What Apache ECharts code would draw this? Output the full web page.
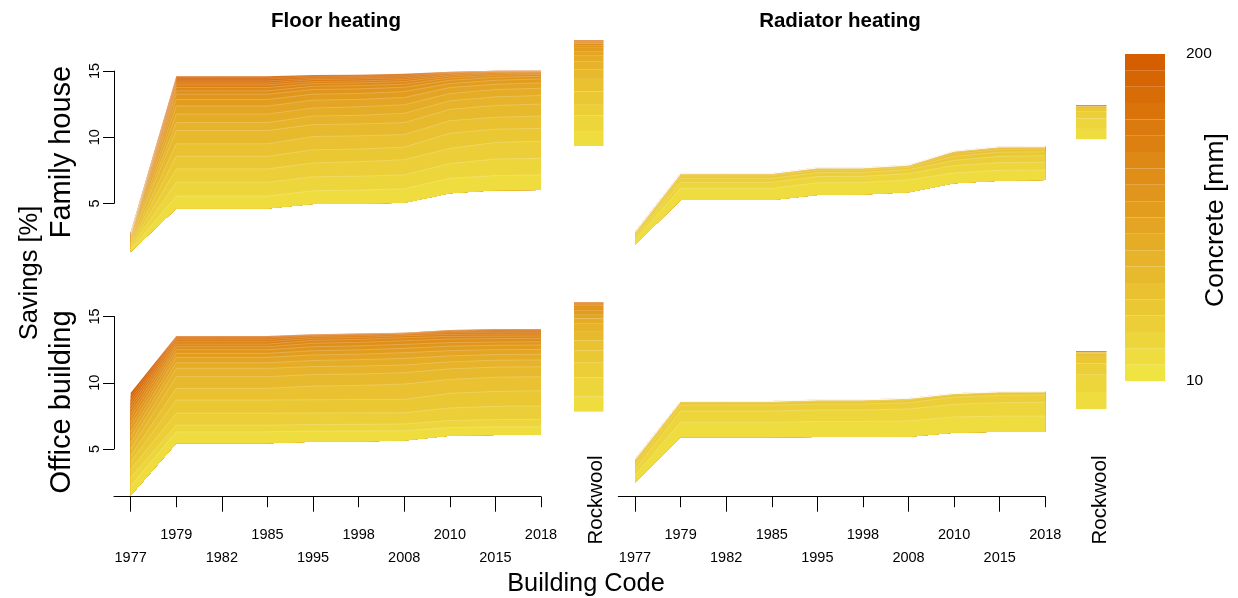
<!DOCTYPE html>
<html>
<head>
<meta charset="utf-8">
<title>Savings by building code</title>
<script src="https://cdn.jsdelivr.net/npm/echarts@6/dist/echarts.min.js"></script>
<style>
  html, body { margin: 0; padding: 0; background: #fff; }
  #chart { width: 1238px; height: 598px; }
</style>
</head>
<body>
<div id="chart"></div>
<script>
const years = ['1977', '1979', '1982', '1985', '1995', '1998', '2008', '2010', '2015', '2018']
const concrete = [10, 20, 30, 40, 50, 60, 70, 80, 90, 100, 110, 120, 130, 140, 150, 160, 170, 180, 190, 200]

// savings [%], one row per building code, 20 values for 10..200 mm concrete
const familyFloor = [
  [1.34, 1.48, 1.63, 1.78, 1.92, 2.06, 2.2, 2.3, 2.4, 2.49, 2.56, 2.62, 2.66, 2.7, 2.73, 2.76, 2.79, 2.81, 2.83, 2.85],
  [4.6, 5.55, 6.6, 7.6, 8.55, 9.5, 10.5, 11.1, 11.75, 12.35, 12.85, 13.25, 13.5, 13.75, 13.95, 14.1, 14.25, 14.4, 14.5, 14.6],
  [4.6, 5.55, 6.6, 7.6, 8.55, 9.5, 10.5, 11.1, 11.75, 12.35, 12.85, 13.25, 13.5, 13.75, 13.95, 14.1, 14.25, 14.4, 14.5, 14.6],
  [4.6, 5.55, 6.6, 7.6, 8.55, 9.5, 10.5, 11.1, 11.75, 12.35, 12.85, 13.25, 13.5, 13.75, 13.95, 14.1, 14.25, 14.4, 14.5, 14.6],
  [4.95, 5.95, 7.0, 8.05, 9.05, 10.05, 10.95, 11.6, 12.2, 12.8, 13.25, 13.6, 13.85, 14.05, 14.2, 14.35, 14.45, 14.55, 14.62, 14.7],
  [4.97, 6.0, 7.05, 8.15, 9.1, 10.1, 11.0, 11.65, 12.3, 12.85, 13.3, 13.65, 13.9, 14.1, 14.25, 14.4, 14.5, 14.58, 14.65, 14.72],
  [5.05, 6.1, 7.15, 8.3, 9.25, 10.2, 11.1, 11.8, 12.45, 13.0, 13.45, 13.77, 14.0, 14.2, 14.35, 14.48, 14.58, 14.66, 14.74, 14.8],
  [5.76, 6.89, 8.0, 9.15, 10.3, 11.25, 12.1, 12.75, 13.3, 13.75, 14.05, 14.3, 14.48, 14.62, 14.72, 14.8, 14.86, 14.9, 14.93, 14.95],
  [5.98, 7.1, 8.35, 9.6, 10.6, 11.5, 12.4, 13.05, 13.6, 14.0, 14.3, 14.52, 14.68, 14.8, 14.88, 14.93, 14.97, 14.99, 15.01, 15.02],
  [6.0, 7.14, 8.4, 9.7, 10.67, 11.6, 12.5, 13.15, 13.7, 14.1, 14.4, 14.6, 14.74, 14.84, 14.9, 14.95, 14.98, 15.0, 15.02, 15.04]
]

const familyRadiator = [
  [1.85, 2.2, 2.4, 2.55, 2.65, 2.72, 2.76, 2.79, 2.81, 2.82, 2.83, 2.84, 2.84, 2.85, 2.85, 2.85, 2.85, 2.85, 2.85, 2.86],
  [5.25, 6.13, 6.59, 6.89, 7.08, 7.17, 7.22, 7.24, 7.25, 7.26, 7.26, 7.27, 7.27, 7.27, 7.27, 7.27, 7.27, 7.27, 7.27, 7.28],
  [5.25, 6.13, 6.59, 6.89, 7.08, 7.17, 7.22, 7.24, 7.25, 7.26, 7.26, 7.27, 7.27, 7.27, 7.27, 7.27, 7.27, 7.27, 7.27, 7.28],
  [5.25, 6.13, 6.59, 6.89, 7.08, 7.17, 7.22, 7.24, 7.25, 7.26, 7.26, 7.27, 7.27, 7.27, 7.27, 7.27, 7.27, 7.27, 7.27, 7.28],
  [5.63, 6.55, 7.02, 7.32, 7.5, 7.6, 7.65, 7.67, 7.68, 7.69, 7.69, 7.69, 7.69, 7.69, 7.69, 7.69, 7.69, 7.69, 7.69, 7.7],
  [5.66, 6.57, 7.04, 7.34, 7.51, 7.61, 7.65, 7.67, 7.68, 7.69, 7.69, 7.69, 7.69, 7.69, 7.69, 7.69, 7.69, 7.69, 7.69, 7.7],
  [5.83, 6.78, 7.25, 7.55, 7.72, 7.81, 7.86, 7.88, 7.89, 7.9, 7.9, 7.9, 7.9, 7.9, 7.9, 7.9, 7.9, 7.9, 7.9, 7.91],
  [6.51, 7.3, 7.85, 8.25, 8.55, 8.73, 8.85, 8.9, 8.93, 8.95, 8.95, 8.95, 8.95, 8.95, 8.95, 8.95, 8.95, 8.95, 8.95, 8.96],
  [6.71, 7.5, 8.08, 8.55, 8.87, 9.07, 9.18, 9.23, 9.26, 9.28, 9.28, 9.28, 9.28, 9.28, 9.28, 9.28, 9.28, 9.28, 9.28, 9.29],
  [6.76, 7.52, 8.1, 8.6, 8.9, 9.1, 9.2, 9.25, 9.27, 9.28, 9.28, 9.28, 9.28, 9.28, 9.28, 9.28, 9.28, 9.28, 9.28, 9.29]
]

const officeFloor = [
  [1.5, 2.2, 2.85, 3.45, 4.0, 4.5, 5.0, 5.45, 5.9, 6.3, 6.7, 7.05, 7.4, 7.7, 8.0, 8.25, 8.5, 8.75, 9.0, 9.25],
  [5.43, 6.3, 6.8, 7.7, 8.7, 9.58, 10.46, 11.09, 11.51, 11.92, 12.22, 12.5, 12.72, 12.92, 13.1, 13.25, 13.37, 13.45, 13.5, 13.53],
  [5.43, 6.3, 6.8, 7.7, 8.7, 9.58, 10.46, 11.09, 11.51, 11.92, 12.22, 12.5, 12.72, 12.92, 13.1, 13.25, 13.37, 13.45, 13.5, 13.53],
  [5.43, 6.3, 6.8, 7.7, 8.7, 9.58, 10.46, 11.09, 11.51, 11.92, 12.22, 12.5, 12.72, 12.92, 13.1, 13.25, 13.37, 13.45, 13.5, 13.53],
  [5.55, 6.35, 6.85, 7.72, 8.72, 9.75, 10.62, 11.22, 11.68, 12.1, 12.42, 12.72, 12.98, 13.2, 13.36, 13.48, 13.56, 13.61, 13.64, 13.66],
  [5.57, 6.36, 6.86, 7.73, 8.73, 9.8, 10.66, 11.26, 11.74, 12.16, 12.48, 12.79, 13.05, 13.27, 13.42, 13.54, 13.62, 13.67, 13.7, 13.71],
  [5.65, 6.38, 6.89, 7.74, 8.75, 9.9, 10.76, 11.34, 11.84, 12.27, 12.6, 12.9, 13.17, 13.4, 13.55, 13.65, 13.71, 13.75, 13.77, 13.78],
  [6.0, 6.62, 7.15, 8.1, 9.2, 10.25, 11.05, 11.58, 12.03, 12.42, 12.76, 13.03, 13.3, 13.5, 13.65, 13.77, 13.86, 13.92, 13.96, 13.98],
  [6.05, 6.67, 7.22, 8.22, 9.35, 10.42, 11.18, 11.7, 12.13, 12.5, 12.83, 13.08, 13.33, 13.52, 13.67, 13.8, 13.9, 13.97, 14.02, 14.05],
  [6.06, 6.68, 7.24, 8.25, 9.4, 10.46, 11.21, 11.72, 12.15, 12.52, 12.85, 13.1, 13.35, 13.53, 13.68, 13.81, 13.91, 13.98, 14.03, 14.06]
]

const officeRadiator = [
  [2.41, 3.0, 3.45, 3.75, 3.95, 4.07, 4.14, 4.18, 4.2, 4.22, 4.23, 4.24, 4.24, 4.25, 4.25, 4.25, 4.25, 4.25, 4.25, 4.26],
  [5.88, 7.02, 7.87, 8.32, 8.52, 8.58, 8.6, 8.61, 8.62, 8.62, 8.62, 8.62, 8.62, 8.62, 8.62, 8.62, 8.62, 8.62, 8.62, 8.63],
  [5.88, 7.02, 7.87, 8.32, 8.52, 8.58, 8.6, 8.61, 8.62, 8.62, 8.62, 8.62, 8.62, 8.62, 8.62, 8.62, 8.62, 8.62, 8.62, 8.63],
  [5.88, 7.02, 7.87, 8.32, 8.52, 8.58, 8.6, 8.61, 8.62, 8.62, 8.62, 8.62, 8.62, 8.62, 8.62, 8.62, 8.62, 8.62, 8.62, 8.63],
  [5.9, 7.08, 7.95, 8.4, 8.6, 8.67, 8.7, 8.71, 8.72, 8.72, 8.72, 8.72, 8.72, 8.72, 8.72, 8.72, 8.72, 8.72, 8.72, 8.73],
  [5.9, 7.08, 7.95, 8.4, 8.6, 8.67, 8.7, 8.71, 8.72, 8.72, 8.72, 8.72, 8.72, 8.72, 8.72, 8.72, 8.72, 8.72, 8.72, 8.73],
  [5.92, 7.12, 8.02, 8.5, 8.72, 8.79, 8.81, 8.82, 8.83, 8.83, 8.83, 8.83, 8.83, 8.83, 8.83, 8.83, 8.83, 8.83, 8.83, 8.84],
  [6.23, 7.42, 8.38, 8.92, 9.12, 9.17, 9.19, 9.2, 9.2, 9.2, 9.2, 9.2, 9.2, 9.2, 9.2, 9.2, 9.2, 9.2, 9.2, 9.21],
  [6.3, 7.48, 8.5, 9.05, 9.25, 9.3, 9.32, 9.33, 9.33, 9.33, 9.33, 9.33, 9.33, 9.33, 9.33, 9.33, 9.33, 9.33, 9.33, 9.34],
  [6.31, 7.49, 8.52, 9.08, 9.28, 9.31, 9.33, 9.33, 9.33, 9.33, 9.33, 9.33, 9.33, 9.33, 9.33, 9.33, 9.33, 9.33, 9.33, 9.34]
]

// rockwool savings [%], 10..200 mm
const rockFamilyFloor = [9.33, 10.4, 11.65, 12.5, 13.45, 14.4, 15.1, 15.7, 16.15, 16.5, 16.75, 16.95, 17.08, 17.17, 17.23, 17.27, 17.3, 17.32, 17.33, 17.34]
const rockFamilyRadiator = [9.84, 10.62, 11.42, 11.92, 12.2, 12.3, 12.33, 12.34, 12.35, 12.35, 12.35, 12.35, 12.35, 12.35, 12.35, 12.35, 12.35, 12.36, 12.37, 12.42]
const rockOfficeFloor = [7.82, 8.95, 10.4, 11.55, 12.45, 13.2, 13.9, 14.45, 14.85, 15.18, 15.43, 15.65, 15.82, 15.93, 16.0, 16.04, 16.06, 16.07, 16.08, 16.09]
const rockOfficeRadiator = [8.02, 9.3, 10.6, 11.45, 11.95, 12.2, 12.28, 12.31, 12.32, 12.32, 12.32, 12.32, 12.32, 12.32, 12.32, 12.32, 12.32, 12.33, 12.34, 12.39]

const FONT = '"Liberation Sans", Arial, sans-serif'
// the drawn x axis starts a little left of the first building code
const xMin = -0.366

// yellow -> vermillion
const low = [240, 228, 66]
const high = [213, 94, 0]
const palette = concrete.map((c, i) => {
  const t = i / (concrete.length - 1)
  const ch = low.map((v, j) => Math.round(v + (high[j] - v) * t))
  return 'rgb(' + ch.join(',') + ')'
})

const oddIdx = years.map((y, i) => i).filter(i => i % 2 === 1)
const evenIdx = years.map((y, i) => i).filter(i => i % 2 === 0)

// every thickness fills from the 10 mm curve up to its own curve;
// thickest drawn first so the thinner slabs paint over it
function areaSeries (table, axis) {
  const out = []
  for (let k = concrete.length - 1; k >= 1; k--) {
    const stack = 'p' + axis + '_' + k
    out.push({
      type: 'line',
      xAxisIndex: axis,
      yAxisIndex: axis,
      stack: stack,
      data: table.map(col => col[0]),
      symbol: 'none',
      silent: true,
      lineStyle: { width: 0, opacity: 0 }
    })
    out.push({
      type: 'line',
      xAxisIndex: axis,
      yAxisIndex: axis,
      stack: stack,
      data: table.map(col => +(col[k] - col[0]).toFixed(4)),
      symbol: 'none',
      silent: true,
      lineStyle: { color: 'rgba(255,255,255,0.35)', width: 0.6 },
      areaStyle: { color: palette[k], opacity: 1 }
    })
  }
  return out
}

function rockSeries (values, axis) {
  return concrete.map((c, k) => ({
    type: 'bar',
    xAxisIndex: axis,
    yAxisIndex: axis,
    stack: 'rock' + axis,
    data: [k === 0 ? values[0] : +(values[k] - values[k - 1]).toFixed(4)],
    barWidth: '100%',
    silent: true,
    itemStyle: k === 0 ? { color: 'rgba(0,0,0,0)' } : { color: palette[k] }
  }))
}

function text (str, x, y, size, rotate, bold) {
  return {
    type: 'text',
    x: x,
    y: y,
    z: 100,
    rotation: rotate ? Math.PI / 2 : 0,
    silent: true,
    style: {
      text: str,
      fill: '#000',
      font: (bold ? 'bold ' : '') + size + 'px ' + FONT,
      textAlign: 'center',
      textVerticalAlign: 'middle',
      align: 'center',
      verticalAlign: 'middle'
    }
  }
}

const dataX = (grid) => ({ gridIndex: grid, type: 'category', data: years, boundaryGap: false, show: false })
const hiddenY = (grid, min, max) => ({ gridIndex: grid, type: 'value', min: min, max: max, show: false })
const rockX = (grid) => ({ gridIndex: grid, type: 'category', data: ['Rockwool'], show: false })

const tickLabel = { color: '#000', fontFamily: FONT, fontSize: 14.5 }

function bottomAxis (grid, idx, tickLen, margin, withLine) {
  return {
    gridIndex: grid,
    type: 'value',
    min: xMin,
    max: years.length - 1,
    position: 'bottom',
    z: 5,
    axisLine: { show: withLine, onZero: false, lineStyle: { color: '#000', width: 1 } },
    splitLine: { show: false },
    axisTick: { show: true, customValues: idx, length: tickLen, lineStyle: { color: '#000', width: 1 } },
    axisLabel: Object.assign({ customValues: idx, margin: margin, formatter: v => years[v] }, tickLabel)
  }
}

function leftAxis (grid) {
  return {
    gridIndex: grid,
    type: 'value',
    min: 5,
    max: 15,
    interval: 5,
    position: 'left',
    axisLine: { show: true, lineStyle: { color: '#000', width: 1 } },
    axisTick: { show: true, length: 11, lineStyle: { color: '#000', width: 1 } },
    splitLine: { show: false },
    axisLabel: Object.assign({ rotate: 90, margin: 12 }, tickLabel)
  }
}

const myChart = echarts.init(document.getElementById('chart'))

const option = {
  animation: false,
  backgroundColor: '#fff',
  grid: [
    // 0-3 panels
    { left: 130.7, top: 39.25, width: 410.3, height: 213 },
    { left: 635, top: 39.25, width: 410.3, height: 213 },
    { left: 130.7, top: 300.6, width: 410.3, height: 196.1 },
    { left: 635, top: 300.6, width: 410.3, height: 196.1 },
    // 4-7 rockwool columns
    { left: 574, top: 39.25, width: 29.5, height: 213 },
    { left: 1076, top: 39.25, width: 30.5, height: 213 },
    { left: 574, top: 300.6, width: 29.5, height: 196.1 },
    { left: 1076, top: 300.6, width: 30.5, height: 196.1 },
    // 8-9 savings ticks
    { left: 114, top: 71.05, width: 1, height: 132.3 },
    { left: 114, top: 316.5, width: 1, height: 132.5 },
    // 10 colour key
    { left: 1125, top: 54, width: 40, height: 327 },
    // 11-12 building code axes
    { left: 114, top: 300.6, width: 427, height: 196.1 },
    { left: 618.3, top: 300.6, width: 427, height: 196.1 }
  ],
  xAxis: [
    dataX(0),
    dataX(1),
    dataX(2),
    dataX(3),
    rockX(4),
    rockX(5),
    rockX(6),
    rockX(7),
    { gridIndex: 8, type: 'value', show: false },
    { gridIndex: 9, type: 'value', show: false },
    { gridIndex: 10, type: 'category', data: ['Concrete'], show: false },
    bottomAxis(11, oddIdx, 10.5, 31, true),
    bottomAxis(12, oddIdx, 10.5, 31, true),
    bottomAxis(11, evenIdx, 15, 54, false),
    bottomAxis(12, evenIdx, 15, 54, false)
  ],
  yAxis: [
    hiddenY(0, 1.3, 17.4),
    hiddenY(1, 1.3, 17.4),
    hiddenY(2, 1.4, 16.2),
    hiddenY(3, 1.4, 16.2),
    hiddenY(4, 1.3, 17.4),
    hiddenY(5, 1.3, 17.4),
    hiddenY(6, 1.4, 16.2),
    hiddenY(7, 1.4, 16.2),
    leftAxis(8),
    leftAxis(9),
    {
      gridIndex: 10,
      type: 'value',
      min: 0,
      max: concrete.length,
      position: 'right',
      axisLine: { show: false },
      axisTick: { show: false },
      splitLine: { show: false },
      axisLabel: {
        customValues: [0, concrete.length],
        margin: 21,
        fontSize: 15.5,
        color: '#000',
        fontFamily: FONT,
        formatter: v => v === 0 ? concrete[0] : concrete[concrete.length - 1]
      }
    },
    hiddenY(11, 1.4, 16.2),
    hiddenY(12, 1.4, 16.2)
  ],
  series: [
    ...areaSeries(familyFloor, 0),
    ...areaSeries(familyRadiator, 1),
    ...areaSeries(officeFloor, 2),
    ...areaSeries(officeRadiator, 3),
    ...rockSeries(rockFamilyFloor, 4),
    ...rockSeries(rockFamilyRadiator, 5),
    ...rockSeries(rockOfficeFloor, 6),
    ...rockSeries(rockOfficeRadiator, 7),
    ...concrete.map((c, i) => ({
      type: 'bar',
      xAxisIndex: 10,
      yAxisIndex: 10,
      stack: 'legend',
      data: [1],
      barWidth: '100%',
      silent: true,
      itemStyle: { color: palette[i] }
    }))
  ],
  graphic: [
    text('Floor heating', 336, 21, 20.5, false, true),
    text('Radiator heating', 840, 21, 20.5, false, true),
    text('Savings [%]', 30, 273, 25.5, true),
    text('Family house', 62, 152, 29, true),
    text('Office building', 62, 402, 29, true),
    text('Building Code', 586, 584, 25.3, false),
    text('Concrete [mm]', 1216, 220, 26.5, true),
    text('Rockwool', 596, 500, 20.5, true),
    text('Rockwool', 1100, 500, 20.5, true)
  ]
}

myChart.setOption(option)

window.addEventListener('resize', () => {
  myChart.resize()
})
</script>
</body>
</html>
